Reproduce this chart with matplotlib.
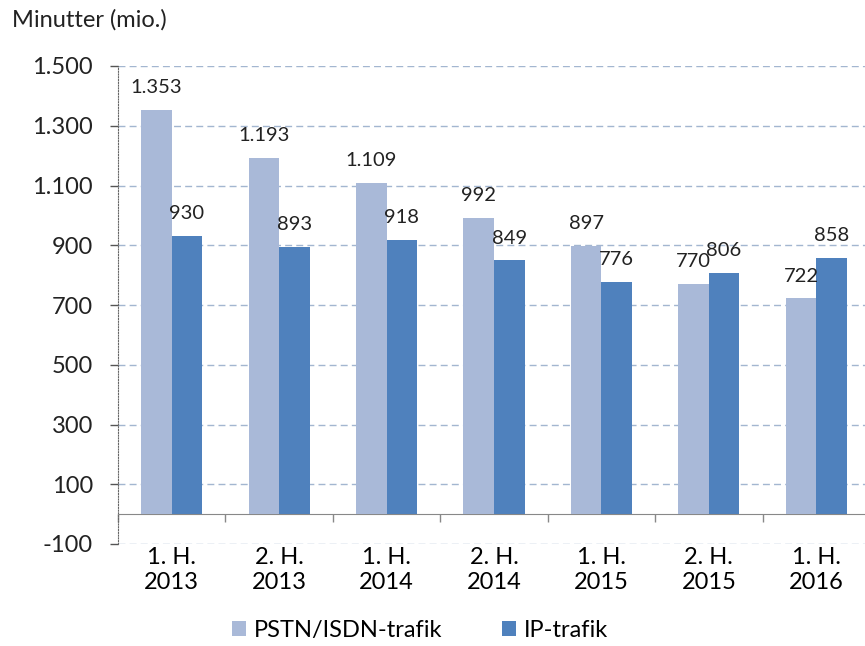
import matplotlib.pyplot as plt
import numpy as np

plt.rcParams['font.family'] = ['Lato', 'DejaVu Sans']

categories = ["1. H.\n2013", "2. H.\n2013", "1. H.\n2014", "2. H.\n2014",
              "1. H.\n2015", "2. H.\n2015", "1. H.\n2016"]
pstn = [1353, 1193, 1109, 992, 897, 770, 722]
ip = [930, 893, 918, 849, 776, 806, 858]
yticks = [-100, 100, 300, 500, 700, 900, 1100, 1300, 1500]

c_pstn = '#A9B9D8'
c_ip = '#4F81BD'


def fmt(v):
    return f"{v:,}".replace(",", ".")


fig = plt.figure(figsize=(8.65, 6.46), dpi=100)
ax = fig.add_axes([118 / 865, 102 / 646, 752 / 865, 478 / 646])

x = np.arange(len(categories)) + 0.5
w = 0.284
b1 = ax.bar(x - w / 2, pstn, w, color=c_pstn, label='PSTN/ISDN-trafik', zorder=3)
b2 = ax.bar(x + w / 2, ip, w, color=c_ip, label='IP-trafik', zorder=3)

for bars, vals in ((b1, pstn), (b2, ip)):
    for r, v in zip(bars, vals):
        ax.annotate(fmt(v), (r.get_x() + r.get_width() / 2, v),
                    xytext=(0, 10), textcoords='offset points',
                    ha='center', va='bottom', fontsize=14.5, color='#222222')

ax.set_xlim(0, 7)
ax.set_ylim(-100, 1500)
ax.set_yticks(yticks)
ax.set_yticklabels([fmt(v) for v in yticks], fontsize=17, color='#222222')
ax.yaxis.grid(True, linestyle=(0, (5, 3)), color='#A3B6D0', linewidth=1, zorder=0)
ax.tick_params(axis='y', length=6, width=1, color='#555555', pad=12)

ax.set_xticks(np.arange(0, 8), minor=True)
ax.set_xticks(x)
ax.set_xticklabels(categories, color='#222222', linespacing=1.35)
ax.tick_params(axis='x', which='major', length=0, pad=24, labelsize=17)
ax.tick_params(axis='x', which='minor', length=6, width=1, color='#888888', direction='out')

ax.spines['top'].set_visible(False)
ax.spines['right'].set_visible(False)
ax.spines['bottom'].set_position(('data', 0))
ax.spines['bottom'].set_color('#888888')
ax.spines['left'].set_color('#666666')
ax.spines['left'].set_linestyle((0, (1, 1.5)))

fig.text(12 / 865, 1 - 20 / 646, 'Minutter (mio.)', fontsize=17, va='center', ha='left', color='#222222')

fig.legend(loc='lower center', bbox_to_anchor=(420 / 865, -0.025), ncol=2, frameon=False,
           fontsize=17, handlelength=0.6, handleheight=0.6, columnspacing=2.5,
           handletextpad=0.35)

fig.savefig('out.png', dpi=100)
